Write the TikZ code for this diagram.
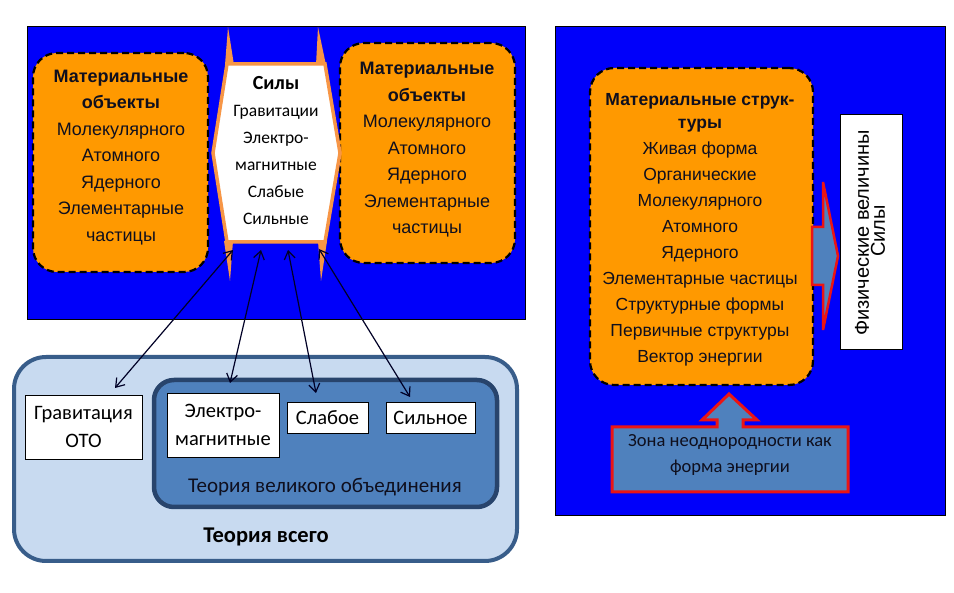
\documentclass[tikz,border=0pt]{standalone}
\usepackage{fontspec}
\setmainfont{Carlito}
\newfontfamily\arialf{Liberation Sans}
\usetikzlibrary{arrows.meta}
\definecolor{panelblue}{RGB}{0,0,250}
\definecolor{matorange}{RGB}{255,153,0}
\definecolor{hexorange}{RGB}{247,150,70}
\definecolor{theolight}{RGB}{200,218,240}
\definecolor{theoborder}{RGB}{56,93,138}
\definecolor{theomid}{RGB}{79,129,189}
\definecolor{theodark}{RGB}{40,68,108}
\definecolor{arrred}{RGB}{235,20,20}
\definecolor{txtdark}{RGB}{15,15,30}
\begin{document}
\begin{tikzpicture}[x=1pt,y=-1pt,
  panel/.style={draw=black, line width=1pt, fill=panelblue, inner sep=0pt, outer sep=0pt},
  matbox/.style={draw=black, fill=matorange, line width=2.2pt, dash pattern=on 7pt off 4pt, rounded corners=24pt, inner sep=0pt},
  mattext/.style={align=center, text=txtdark, font=\arialf\fontsize{18}{26.5}\selectfont, inner sep=0pt},
  whitebox/.style={draw=black, fill=white, line width=0.9pt, inner sep=0pt, align=center, font=\fontsize{20.5}{28}\selectfont},
  conn/.style={draw=black!85!blue, line width=1.2pt, {Straight Barb[length=8pt,width=11pt]}-{Straight Barb[length=8pt,width=11pt]}},
  spike/.style={fill=hexorange, draw=none}
]
\useasboundingbox (0,0) rectangle (954,593);
\fill[white] (0,0) rectangle (954,593);

% ---------- left panel ----------
\node[panel, minimum width=498pt, minimum height=293pt] (lpanel) at (276,173.5) {};
\node[matbox, minimum width=175pt, minimum height=219pt] (lmat) at (120.5,162.5) {};
\node[mattext] (lmattxt) at (121,157.5) {\textbf{Материальные}\\\textbf{объекты}\\Молекулярного\\Атомного\\Ядерного\\Элементарные\\частицы};
\node[matbox, minimum width=175pt, minimum height=220pt] (rmat) at (427.5,153) {};
\node[mattext] (rmattxt) at (427,150) {\textbf{Материальные}\\\textbf{объекты}\\Молекулярного\\Атомного\\Ядерного\\Элементарные\\частицы};

% hexagon with spikes
\path[spike] (228,27) -- (225,65) -- (234,65) -- cycle;
\path[spike] (318,27) -- (316,65) -- (326,65) -- cycle;
\path[spike] (230,281) -- (224,241) -- (233,241) -- cycle;
\path[spike] (321,281) -- (318,241) -- (327,241) -- cycle;
\draw[draw=hexorange, fill=white, line width=3.5pt, line join=miter]
  (227,64) -- (325,64) -- (340,153) -- (325,242) -- (227,242) -- (213,153) -- cycle;
\node[align=center, font=\fontsize{17.5}{27}\selectfont, inner sep=0pt] (hexa) at (276,151)
  {{\fontsize{20}{27}\selectfont\textbf{Силы}}\\Гравитации\\Электро-\\магнитные\\Слабые\\Сильные};
\coordinate (hA) at (233,250);
\coordinate (hB) at (261,250);
\coordinate (hC) at (288,250);
\coordinate (hD) at (319,249);

% ---------- right panel ----------
\node[panel, minimum width=390pt, minimum height=489pt] (rpanel) at (750,271.5) {};
\node[matbox, minimum width=223pt, minimum height=317pt] (smat) at (701.5,226.5) {};
\node[mattext, font=\arialf\fontsize{17.5}{26}\selectfont] (smattxt) at (700,230)
  {\textbf{Материальные струк-}\\[-3pt]\textbf{туры}\\Живая форма\\Органические\\Молекулярного\\Атомного\\Ядерного\\Элементарные частицы\\Структурные формы\\Первичные структуры\\Вектор энергии};
\node[draw=black, fill=white, line width=0.9pt, minimum width=62pt, minimum height=235pt, inner sep=0pt] (vbox) at (871,231.5) {};
\node[rotate=90, font=\arialf\fontsize{20}{22}\selectfont, inner sep=0pt] (vtxt1) at (862,233) {Физические величины};
\node[rotate=90, font=\arialf\fontsize{20}{22}\selectfont, inner sep=0pt] (vtxt2) at (878,231) {Силы};
% right block arrow
\draw[draw=arrred, fill=theomid, line width=2.5pt, line join=miter]
  (812,227) -- (823,227) -- (823,182) -- (838,256) -- (823,330) -- (823,285) -- (812,285) -- cycle;
% zone callout with up arrow
\draw[draw=arrred, fill=theomid, line width=3pt, line join=miter]
  (612,427) -- (717,427) -- (717,420) -- (702,420) -- (729,394) -- (757,420) -- (743,420) -- (743,427)
  -- (848,427) -- (848,492) -- (612,492) -- cycle;
\node[align=center, text=txtdark, font=\fontsize{18.5}{26}\selectfont, inner sep=0pt] (zone) at (730,455)
  {Зона неоднородности как\\форма энергии};

% ---------- theory boxes ----------
\node[draw=theoborder, fill=theolight, line width=4pt, rounded corners=32pt, minimum width=503pt, minimum height=204pt, inner sep=0pt] (toe) at (265.5,459) {};
\node[draw=theodark, fill=theomid, line width=4.5pt, rounded corners=20pt, minimum width=343pt, minimum height=127pt, inner sep=0pt] (gut) at (325.5,443.5) {};
\node[whitebox, minimum width=117pt, minimum height=64pt] (grav) at (83.5,427) {Гравитация\\ОТО};
\node[whitebox, minimum width=112pt, minimum height=64pt] (elec) at (223,425) {Электро-\\магнитные};
\node[whitebox, minimum width=81pt, minimum height=31pt] (weak) at (327.5,417.5) {Слабое};
\node[whitebox, minimum width=89pt, minimum height=31pt] (strong) at (430.5,417.5) {Сильное};
\node[text=txtdark, font=\fontsize{21}{22}\selectfont, inner sep=0pt] (gutlbl) at (325,487) {Теория великого объединения};
\node[text=black, font=\bfseries\fontsize{22.5}{24}\selectfont, inner sep=0pt] (toelbl) at (266,537) {Теория всего};

% ---------- connectors ----------
\coordinate (gA) at (115,388);
\coordinate (eB) at (230,383);
\coordinate (sC) at (316,393);
\coordinate (sD) at (410,397);
\draw[conn] (hA) -- (gA);
\draw[conn] (hB) -- (eB);
\draw[conn] (hC) -- (sC);
\draw[conn] (hD) -- (sD);
\end{tikzpicture}
\end{document}
